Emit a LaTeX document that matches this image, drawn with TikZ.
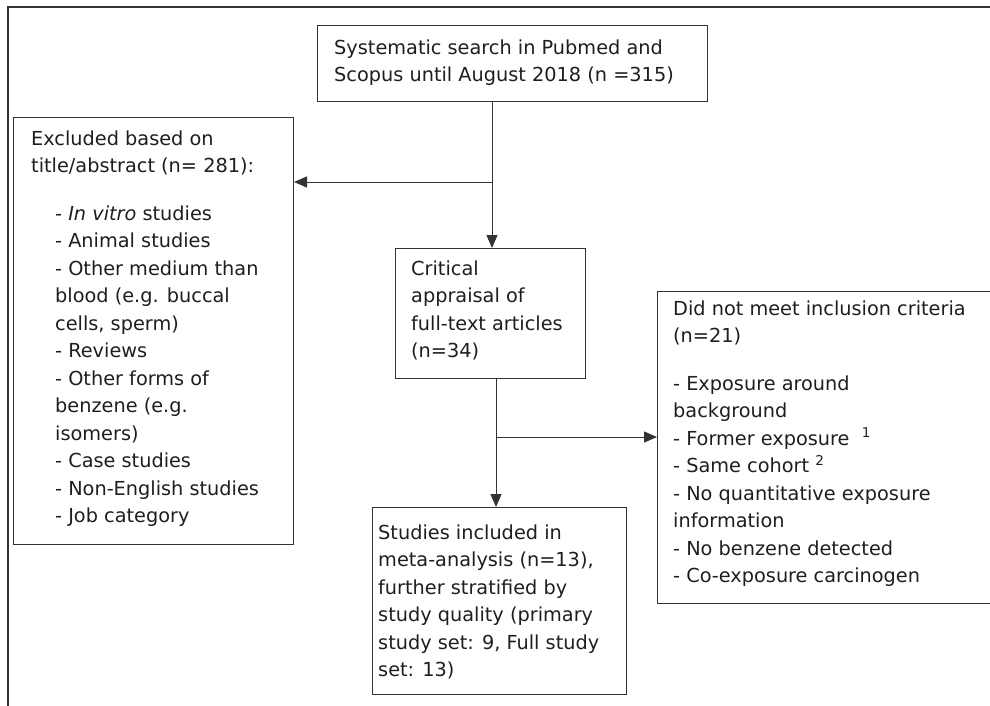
\documentclass[tikz,border=0pt]{standalone}
\usepackage{fontspec}
\setmainfont{DejaVu Sans}
\usetikzlibrary{arrows.meta}
\definecolor{ink}{HTML}{1E1E1E}
\definecolor{rule}{HTML}{333333}
\begin{document}
\begin{tikzpicture}[x=1pt, y=-1pt,
  box/.style={draw=rule, line width=1pt, rectangle, inner sep=0pt, anchor=north west},
  txt/.style={anchor=north west, inner sep=0pt, align=left, text=ink,
    font=\fontsize{19.3}{27.5}\selectfont},
  link/.style={draw=rule, line width=1pt},
  arr/.style={link, -{Triangle[length=13pt, width=11pt]}}]
\useasboundingbox (0,0) rectangle (990,706);
\clip (0,0) rectangle (990,706);

% outer frame (top and left edges)
\draw[rule, line width=2pt] (8,706) -- (8,7) -- (990,7);

% boxes
\node[box, minimum width=390pt, minimum height=76pt]  (search) at (317,25) {};
\node[box, minimum width=280pt, minimum height=427pt] (excl)   at (13,117) {};
\node[box, minimum width=190pt, minimum height=130pt] (crit)   at (395,248) {};
\node[box, minimum width=345pt, minimum height=312pt] (inelig) at (657,291) {};
\node[box, minimum width=254pt, minimum height=187pt] (incl)   at (372,507) {};

% texts
\node[txt] (tsearch) at (334,34.75) {\strut Systematic search in Pubmed and\\Scopus until August 2018 (n =315)};
\node[txt] (texclhead) at (31,125.75) {\strut Excluded based on\\title/abstract (n= 281):};
\node[txt] (texcllist) at (55,200.75) {\strut - \textit{In vitro} studies\\- Animal studies\\- Other medium than\\blood (e.g. buccal\\cells, sperm)\\- Reviews\\- Other forms of\\benzene (e.g.\\isomers)\\- Case studies\\- Non-English studies\\- Job category};
\node[txt] (tcrit) at (411,255.75) {\strut Critical\\appraisal of\\full-text articles\\(n=34)};
\node[txt] (tinelig) at (673,295.75) {\strut Did not meet inclusion criteria\\(n=21)\\[20pt]- Exposure around\\background\\- Former exposure \ \textsuperscript{1}\\- Same cohort \textsuperscript{2}\\- No quantitative exposure\\information\\- No benzene detected\\- Co-exposure carcinogen};
\node[txt] (tincl) at (378,519.75) {\strut Studies included in\\meta-analysis (n=13),\\further stratified by\\study quality (primary\\study set: 9, Full study\\set: 13)};

% connectors
\coordinate (j1) at (492,182);
\coordinate (j2) at (496,437);
\draw[link] (search.south -| j1) -- (j1);
\draw[arr] (j1) -- (crit.north -| j1);
\draw[arr] (j1) -- (excl.east |- j1);
\draw[link] (crit.south -| j2) -- (j2);
\draw[arr] (j2) -- (incl.north -| j2);
\draw[arr] (j2) -- (inelig.west |- j2);
\end{tikzpicture}
\end{document}
